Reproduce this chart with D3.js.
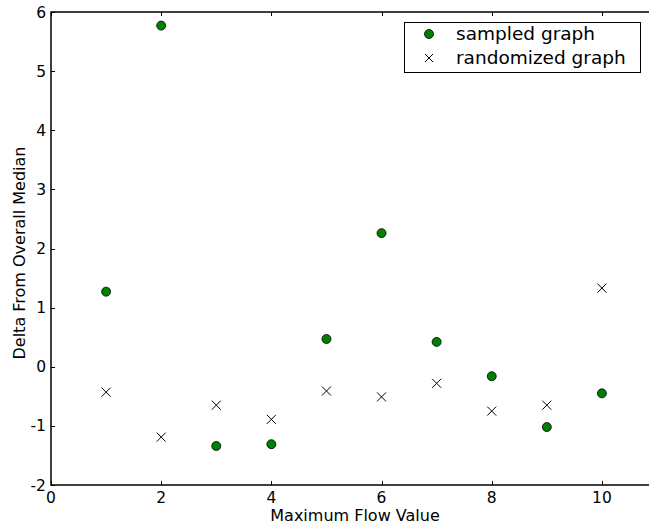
<!DOCTYPE html>
<html>
<head>
<meta charset="utf-8">
<script src="https://cdn.jsdelivr.net/npm/d3@7"></script>
<style>
  html, body { margin: 0; padding: 0; background: #fff; }
  svg { display: block; }
  text { font-family: "DejaVu Sans", sans-serif; fill: #000; }
</style>
</head>
<body>
<svg id="chart" width="649" height="530"></svg>
<script>
// Maximum flow values on the x axis
const flowValues = [1, 2, 3, 4, 5, 6, 7, 8, 9, 10];
// Delta from overall median, per series
const sampledDelta = [1.27, 5.77, -1.34, -1.31, 0.47, 2.26, 0.42, -0.16, -1.02, -0.45];
const randomizedDelta = [-0.43, -1.19, -0.65, -0.89, -0.41, -0.51, -0.28, -0.75, -0.65, 1.33];
const xTicks = [0, 2, 4, 6, 8, 10];
const yTicks = [-2, -1, 0, 1, 2, 3, 4, 5, 6];
const seriesNames = ["sampled graph", "randomized graph"];

(function () {
  const svg = d3.select("#chart");
  const plotL = 51, plotT = 12, plotR = 657, plotB = 485;

  const x = d3.scaleLinear().domain([0, 11]).range([plotL, plotR]);
  const y = d3.scaleLinear().domain([-2, 6]).range([plotB, plotT]);

  // ticks pointing inward on all four sides
  const tickLen = 4;
  const g = svg.append("g").attr("stroke", "#000").attr("stroke-width", 1);
  xTicks.forEach(t => {
    const px = Math.round(x(t)) + 0.5;
    g.append("line").attr("x1", px).attr("x2", px).attr("y1", plotB).attr("y2", plotB - tickLen);
    g.append("line").attr("x1", px).attr("x2", px).attr("y1", plotT).attr("y2", plotT + tickLen);
  });
  yTicks.forEach(t => {
    const py = Math.round(y(t)) + 0.5;
    g.append("line").attr("x1", plotL).attr("x2", plotL + tickLen).attr("y1", py).attr("y2", py);
    g.append("line").attr("x1", plotR).attr("x2", plotR - tickLen).attr("y1", py).attr("y2", py);
  });

  // tick labels
  svg.append("g").selectAll("text").data(xTicks).join("text")
    .attr("x", d => x(d)).attr("y", plotB + 18)
    .attr("text-anchor", "middle").attr("font-size", 15.5)
    .text(d => d);
  svg.append("g").selectAll("text").data(yTicks).join("text")
    .attr("x", plotL - 5).attr("y", d => y(d) + 5.5)
    .attr("text-anchor", "end").attr("font-size", 15.5)
    .text(d => d);

  // frame
  svg.append("rect")
    .attr("x", plotL).attr("y", plotT)
    .attr("width", plotR - plotL).attr("height", plotB - plotT)
    .attr("fill", "none").attr("stroke", "#000").attr("stroke-width", 1.5);

  // axis titles
  svg.append("text")
    .attr("x", 355).attr("y", 521)
    .attr("text-anchor", "middle").attr("font-size", 16)
    .text("Maximum Flow Value");
  svg.append("text")
    .attr("transform", `translate(25,253) rotate(-90)`)
    .attr("text-anchor", "middle").attr("font-size", 16)
    .text("Delta From Overall Median");

  // randomized graph: x markers
  const xs = 4.5;
  const crosses = svg.append("g").attr("stroke", "#000").attr("stroke-width", 1);
  flowValues.forEach((f, i) => {
    const cx = x(f), cy = y(randomizedDelta[i]);
    crosses.append("path")
      .attr("d", `M${cx - xs},${cy - xs}L${cx + xs},${cy + xs}M${cx - xs},${cy + xs}L${cx + xs},${cy - xs}`);
  });

  // sampled graph: green circles
  svg.append("g").selectAll("circle").data(flowValues).join("circle")
    .attr("cx", d => x(d))
    .attr("cy", (d, i) => y(sampledDelta[i]))
    .attr("r", 4.5)
    .attr("fill", "#008000").attr("stroke", "#000").attr("stroke-width", 0.8);

  // legend
  const lg = svg.append("g");
  lg.append("rect").attr("x", 404.5).attr("y", 22.5).attr("width", 236).attr("height", 50)
    .attr("fill", "#fff").attr("stroke", "#000").attr("stroke-width", 1);
  lg.append("circle").attr("cx", 429).attr("cy", 34).attr("r", 4.5)
    .attr("fill", "#008000").attr("stroke", "#000").attr("stroke-width", 0.8);
  lg.append("path")
    .attr("d", `M${429 - 4},${58 - 4}L${429 + 4},${58 + 4}M${429 - 4},${58 + 4}L${429 + 4},${58 - 4}`)
    .attr("stroke", "#000").attr("stroke-width", 1);
  lg.selectAll("text.lbl").data(seriesNames).join("text")
    .attr("class", "lbl")
    .attr("x", 456).attr("y", (d, i) => 40 + i * 24)
    .attr("font-size", 18.5)
    .text(d => d);
})();
</script>
</body>
</html>
